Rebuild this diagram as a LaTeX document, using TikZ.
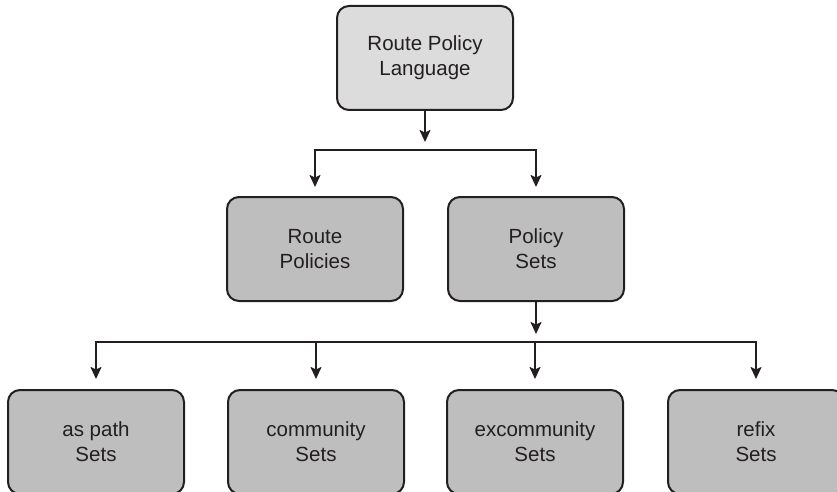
\documentclass[tikz,border=0pt]{standalone}
\usepackage{fontspec}
\setmainfont{Liberation Sans}
\usetikzlibrary{arrows.meta}
\definecolor{boxlight}{RGB}{220,220,220}
\definecolor{boxdark}{RGB}{190,190,191}
\definecolor{ink}{RGB}{35,31,32}

\begin{document}
\begin{tikzpicture}[x=1pt, y=-1pt,
    policybox/.style={draw=ink, line width=2pt, rounded corners=12pt, fill=boxdark,
        minimum width=176pt, minimum height=104pt, align=center, text=ink,
        font=\fontsize{20.5}{25}\selectfont},
    toplevel/.style={policybox, fill=boxlight},
    link/.style={draw=ink, line width=2pt, -{Stealth[length=12pt, width=11pt, inset=2.5pt]}}]

    \clip (0,0) rectangle (837,492);

    % Top box
    \node[toplevel] (lang) at (425,58) {Route Policy\\Language};

    % Second row
    \node[policybox] (rpol) at (315,249) {Route\\Policies};
    \node[policybox] (pset) at (536,249) {Policy\\Sets};

    % Third row (cut off at the bottom)
    \node[policybox] (aspath) at (96,442) {as path\\Sets};
    \node[policybox] (comm) at (316,442) {community\\Sets};
    \node[policybox] (excomm) at (535,442) {excommunity\\Sets};
    \node[policybox] (refix) at (756,442) {refix\\Sets};

    % Bars the arrows branch from
    \coordinate (langbar) at (425,150);
    \coordinate (psetbar) at (536,342);

    % Language to second row
    \draw[link, shorten >=8pt] (lang) -- (langbar);
    \draw[link, shorten >=9pt] (langbar) -| (rpol.north);
    \draw[link, shorten >=9pt] (langbar) -| (pset.north);

    % Policy sets to third row
    \draw[link, shorten >=8pt] (pset) -- (psetbar);
    \draw[link, shorten >=10pt] (psetbar) -| (aspath.north);
    \draw[link, shorten >=10pt] (psetbar) -| (comm.north);
    \draw[link, shorten >=10pt] (psetbar) -| (excomm.north);
    \draw[link, shorten >=10pt] (psetbar) -| (refix.north);

\end{tikzpicture}
\end{document}
